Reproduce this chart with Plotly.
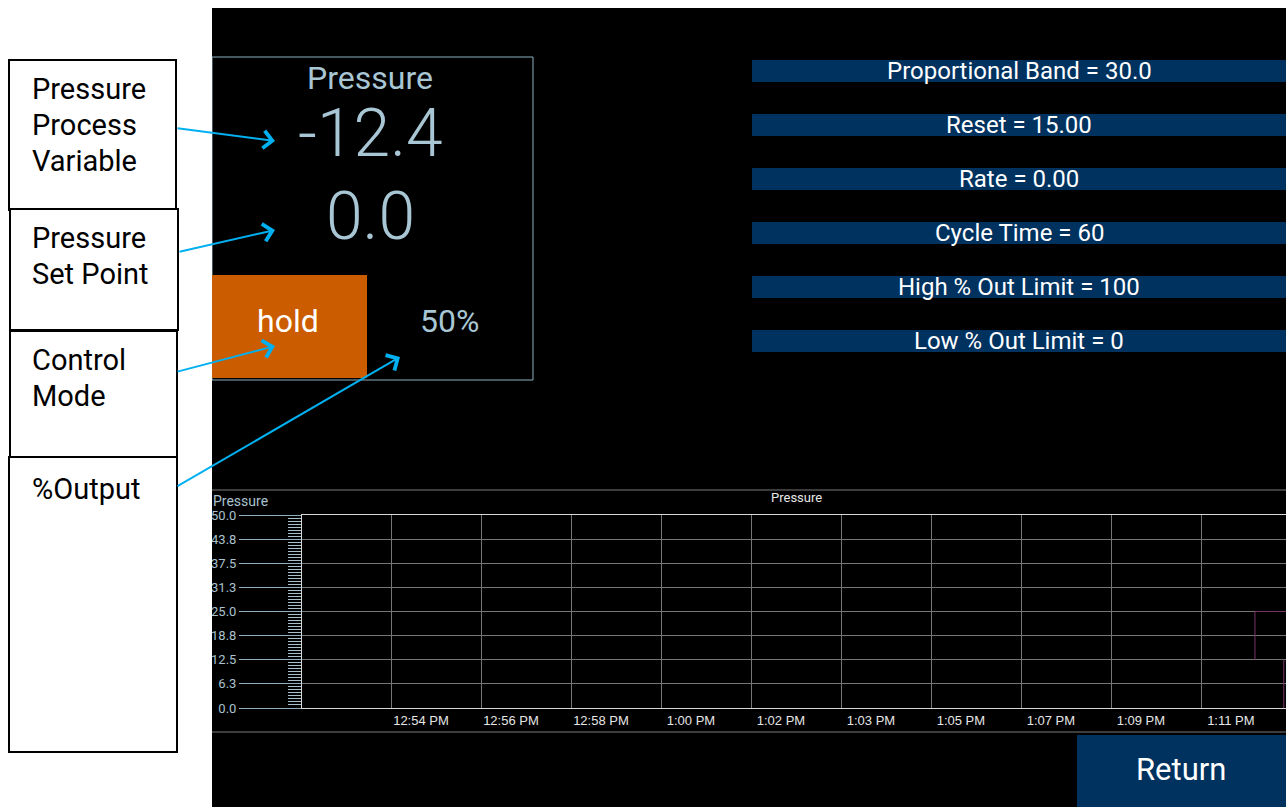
import plotly.graph_objects as go

# ---------------- data ----------------
pv_title = "Pressure"
pv_value = "-12.4"
sp_value = "0.0"
control_mode = "hold"
output_pct = "50%"

param_names = ["Proportional Band", "Reset", "Rate", "Cycle Time",
               "High % Out Limit", "Low % Out Limit"]
param_values = ["30.0", "15.00", "0.00", "60", "100", "0"]

callout_labels = [["Pressure", "Process", "Variable"],
                  ["Pressure", "Set Point"],
                  ["Control", "Mode"],
                  ["%Output"]]

y_tick_vals = [0.0, 6.25, 12.5, 18.75, 25.0, 31.25, 37.5, 43.75, 50.0]
y_tick_text = ["0.0", "6.3", "12.5", "18.8", "25.0", "31.3", "37.5", "43.8", "50.0"]

x_tick_minutes = [54, 56, 58, 60, 62, 64, 66, 68, 70, 72]
x_tick_text = ["12:54 PM", "12:56 PM", "12:58 PM", "1:00 PM", "1:02 PM",
               "1:03 PM", "1:05 PM", "1:07 PM", "1:09 PM", "1:11 PM"]

trend_minutes = [73.18, 73.18, 73.87, None, 73.82, 73.82]
trend_pressure = [12.5, 25.0, 25.0, None, 12.5, 0.0]

# ---------------- geometry helpers (layout only) ----------------
W_FIG, H_FIG = 1286, 807
L, T, PW, PH = 302, 515, 984, 193


def px(x):
    return (x - L) / PW


def py(y):
    return (T + PH - y) / PH


NAVY = "#00325F"
ORANGE = "#CC5C00"
LIGHT = "#A8C6D4"
CYAN = "#00B0F0"
FONT = "Roboto"

fig = go.Figure()
fig.add_trace(go.Scatter(x=trend_minutes, y=trend_pressure, mode="lines",
                         line=dict(color="#7A3468", width=1),
                         connectgaps=False, showlegend=False, hoverinfo="skip",
                         cliponaxis=False))

shapes = []


def rect(x0, y0, x1, y1, fill=None, line_color=None, lw=0, layer="above"):
    d = dict(type="rect", xref="paper", yref="paper",
             x0=px(x0), x1=px(x1), y0=py(y1), y1=py(y0), layer=layer,
             line=dict(width=lw, color=line_color or "rgba(0,0,0,0)"))
    if fill:
        d["fillcolor"] = fill
    shapes.append(d)


def hline(x0, x1, y, color, lw=1):
    shapes.append(dict(type="line", xref="paper", yref="paper",
                       x0=px(x0), x1=px(x1), y0=py(y), y1=py(y),
                       line=dict(color=color, width=lw), layer="above"))


# pressure panel
rect(212, 57, 533, 380, line_color="#8BAFC0", lw=1)
rect(212, 275, 367, 378, fill=ORANGE)
# parameter bars
bar_tops = [60, 114, 168, 222, 276, 330]
for t in bar_tops:
    rect(752, t, 1300, t + 22, fill=NAVY)
# trend frame lines
hline(212, 1300, 490, "#7A7A7A")
hline(212, 1300, 732, "#7A7A7A")
# return button
rect(1077, 735, 1300, 820, fill=NAVY)
# white surround on the left and top
rect(-5, -5, 212, 820, fill="white")
rect(-5, -5, 1300, 8, fill="white")
# callout boxes
rect(9, 60, 176, 210, fill="white", line_color="black", lw=2)
rect(10, 209, 178, 330, fill="white", line_color="black", lw=2)
rect(10, 331, 177, 458, fill="white", line_color="black", lw=2)
rect(9, 457, 177, 752, fill="white", line_color="black", lw=2)

annotations = []


def text(x, y, s, size, color, xanchor="center", family=FONT, weight=None):
    f = dict(size=size, color=color, family=family)
    if weight:
        f["weight"] = weight
    annotations.append(dict(x=px(x), y=py(y), xref="paper", yref="paper",
                            text=s, showarrow=False, xanchor=xanchor,
                            yanchor="middle", font=f))


text(370, 78, pv_title, 32, LIGHT)
text(370, 133, pv_value, 66, LIGHT, weight=300)
text(370, 217, sp_value, 66, LIGHT, weight=300)
text(288, 321, control_mode, 32, "white")
text(449, 321, output_pct, 32, LIGHT)

for t, n, v in zip(bar_tops, param_names, param_values):
    text(1019, t + 11, f"{n} = {v}", 24, "white")

text(1181, 769, "Return", 31, "white")
text(211, 501, "Pressure", 14, "#A9C2CE", xanchor="left")
text(796, 497, "Pressure", 13, "#E8E8E8")

callout_first_y = [89, 238, 360, 489]
for lines, y0 in zip(callout_labels, callout_first_y):
    for i, s in enumerate(lines):
        text(30, y0 + i * 36, s, 29, "black", xanchor="left")

# arrows: (tail x, tail y, head x, head y)
arrows = [(176, 128, 275, 141), (178, 252, 275, 230),
          (176, 372, 275, 346), (176, 487, 400, 357)]
for tx, ty, hx, hy in arrows:
    annotations.append(dict(x=px(hx), y=py(hy), xref="paper", yref="paper",
                            ax=tx - hx, ay=ty - hy, axref="pixel", ayref="pixel",
                            text="", showarrow=True, arrowhead=4, arrowsize=1.7,
                            arrowwidth=2, arrowcolor=CYAN))

fig.update_layout(
    width=W_FIG, height=H_FIG,
    margin=dict(l=L, r=W_FIG - L - PW, t=T, b=H_FIG - T - PH, pad=0),
    paper_bgcolor="black", plot_bgcolor="black",
    shapes=shapes, annotations=annotations, showlegend=False,
    xaxis=dict(range=[52, 73.87], tickmode="array", tickvals=x_tick_minutes,
               ticktext=x_tick_text, ticks="", showgrid=True,
               gridcolor="#767676", gridwidth=1, showline=True, mirror=True,
               linecolor="#D8D8D8", linewidth=1, zeroline=False,
               tickfont=dict(color="#E6E6E6", size=13, family="Liberation Sans"),
               ticklabelshift=29, fixedrange=True),
    yaxis=dict(range=[0, 50], tickmode="array", tickvals=y_tick_vals,
               ticktext=y_tick_text, ticks="outside", ticklen=62,
               tickcolor="#8FAFBF", tickwidth=1, showgrid=True,
               gridcolor="#767676", gridwidth=1, showline=True,
               linecolor="#D8D8D8", linewidth=1, zeroline=False,
               tickfont=dict(color="#A9C2CE", size=13, family=FONT),
               minor=dict(dtick=0.78125, tick0=0, ticks="outside", ticklen=13,
                          tickcolor="#A8BEC9", showgrid=False),
               fixedrange=True),
)

fig.write_html("out.html",
               config={"displayModeBar": False},
               post_script="document.body.style.margin='0';"
                           "document.body.style.overflow='hidden';")
